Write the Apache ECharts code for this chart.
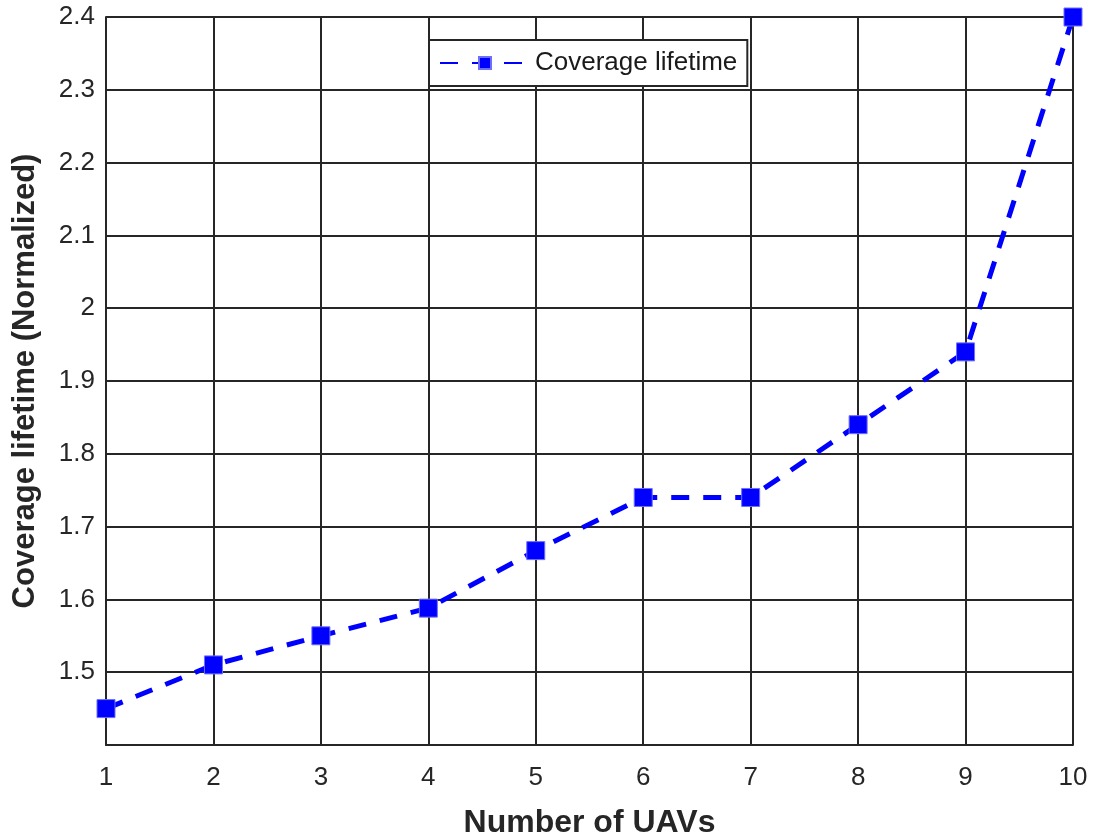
<!DOCTYPE html>
<html>
<head>
<meta charset="utf-8">
<script src="https://cdn.jsdelivr.net/npm/echarts@6/dist/echarts.min.js"></script>
<style>
  html, body { margin: 0; padding: 0; background: #fff; }
  #chart { width: 1093px; height: 833px; }
</style>
</head>
<body>
<div id="chart"></div>
<script>
// Number of UAVs vs. normalized coverage lifetime
const uavCounts = [1, 2, 3, 4, 5, 6, 7, 8, 9, 10];
const lifetime = [1.45, 1.51, 1.55, 1.588, 1.667, 1.74, 1.74, 1.84, 1.94, 2.4];
const xTicks = [1, 2, 3, 4, 5, 6, 7, 8, 9, 10];
const yTicks = [1.5, 1.6, 1.7, 1.8, 1.9, 2, 2.1, 2.2, 2.3, 2.4];

const seriesName = 'Coverage lifetime';
const points = uavCounts.map((n, i) => [n, lifetime[i]]);

const chart = echarts.init(document.getElementById('chart'), null, { renderer: 'canvas' });
const axisColor = '#262626';
const fontFamily = '"Liberation Sans", Arial, sans-serif';

chart.setOption({
  backgroundColor: '#ffffff',
  animation: false,
  grid: {
    left: 106, right: 20, top: 17, bottom: 88,
    containLabel: false,
    outerBoundsMode: 'none'
  },
  legend: {
    data: [seriesName],
    left: 429,
    top: 40,
    padding: [10, 10, 10, 10],
    itemWidth: 90,
    itemHeight: 15,
    itemGap: 6,
    backgroundColor: '#ffffff',
    borderColor: axisColor,
    borderWidth: 2,
    borderRadius: 0,
    textStyle: { fontFamily, fontSize: 26, color: '#1a1a1a' }
  },
  xAxis: {
    type: 'value',
    min: 1,
    max: 10,
    interval: 1,
    name: 'Number of UAVs',
    nameLocation: 'middle',
    nameGap: 62,
    nameTextStyle: { fontFamily, fontSize: 32, fontWeight: 'bold', color: axisColor },
    axisLine: { show: true, lineStyle: { color: axisColor, width: 2 } },
    axisTick: { show: false },
    axisLabel: {
      fontFamily, fontSize: 26, color: axisColor, margin: 20,
      formatter: v => (xTicks.includes(v) ? String(v) : '')
    },
    splitLine: { show: true, lineStyle: { color: axisColor, width: 2 } }
  },
  yAxis: {
    type: 'value',
    min: 1.4,
    max: 2.4,
    interval: 0.1,
    name: 'Coverage lifetime (Normalized)',
    nameLocation: 'middle',
    nameGap: 65,
    nameTextStyle: { fontFamily, fontSize: 31, fontWeight: 'bold', color: axisColor },
    axisLine: { show: true, lineStyle: { color: axisColor, width: 2 } },
    axisTick: { show: false },
    axisLabel: {
      fontFamily, fontSize: 26, color: axisColor, margin: 11,
      formatter: v => {
        const r = Math.round(v * 10) / 10;
        return yTicks.some(t => Math.abs(t - r) < 1e-9) ? String(r) : '';
      }
    },
    splitLine: { show: true, lineStyle: { color: axisColor, width: 2 } }
  },
  series: [{
    name: seriesName,
    type: 'line',
    data: points,
    symbol: 'rect',
    symbolSize: 18,
    showAllSymbol: true,
    itemStyle: { color: '#0000ff', borderColor: '#6e6eff', borderWidth: 1 },
    lineStyle: { color: '#0000ff', width: 5, type: [18, 14] },
    z: 5
  }]
});
</script>
</body>
</html>
